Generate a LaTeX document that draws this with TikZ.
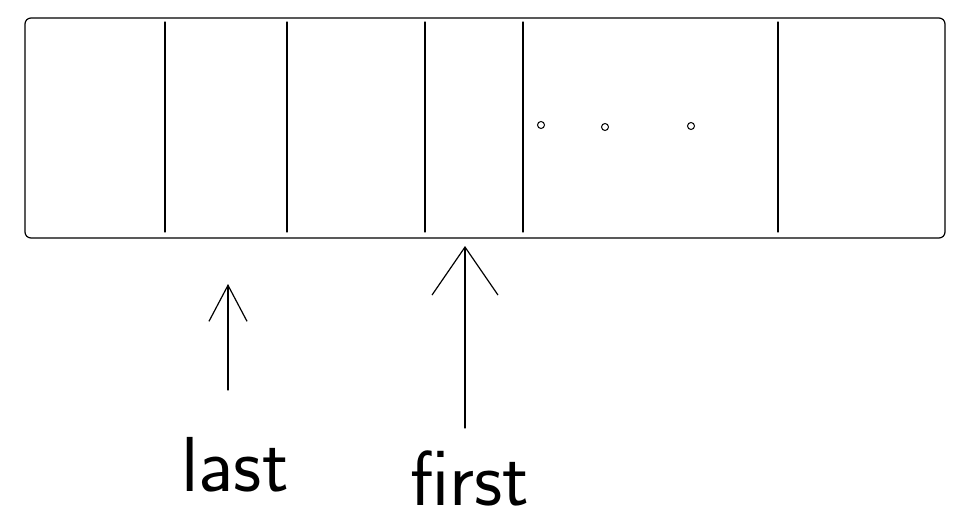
\documentclass[tikz,border=0pt]{standalone}
\usetikzlibrary{arrows.meta}
\begin{document}
\begin{tikzpicture}[x=1pt,y=-1pt,
  line/.style={draw=black,line width=1.2pt,line cap=round,line join=round},
  lbl/.style={font=\sffamily\fontsize{78}{78}\selectfont,inner sep=0pt},
  dotc/.style={circle,draw=black,line width=1pt,minimum size=7pt,inner sep=0pt}]
\useasboundingbox (0,0) rectangle (967,524);
% array box
\draw[line,rounded corners=6pt] (25,18) rectangle (945,238);
% cell separators
\foreach \x/\n in {165/a,287/b,425/c,523/d,778/e}{
  \coordinate (t\n) at (\x,22);
  \coordinate (b\n) at (\x,232);
  \draw[line] (t\n) -- (b\n);
}
% ellipsis
\node[dotc] (d1) at (541,125) {};
\node[dotc] (d2) at (605,127) {};
\node[dotc] (d3) at (691,126) {};
% labels
\node[lbl] (last) at (235,465) {last};
\node[lbl] (first) at (470,478) {first};
% pointers
\coordinate (lastS) at (228,390);
\coordinate (lastT) at (228,284);
\coordinate (firstS) at (465,428);
\coordinate (firstT) at (465,246);
\draw[line,-{Straight Barb[length=36pt,width=38pt,line width=1.2pt]}] (lastS) -- (lastT);
\draw[line,-{Straight Barb[length=48pt,width=66pt,line width=1.2pt]}] (firstS) -- (firstT);
\end{tikzpicture}
\end{document}
